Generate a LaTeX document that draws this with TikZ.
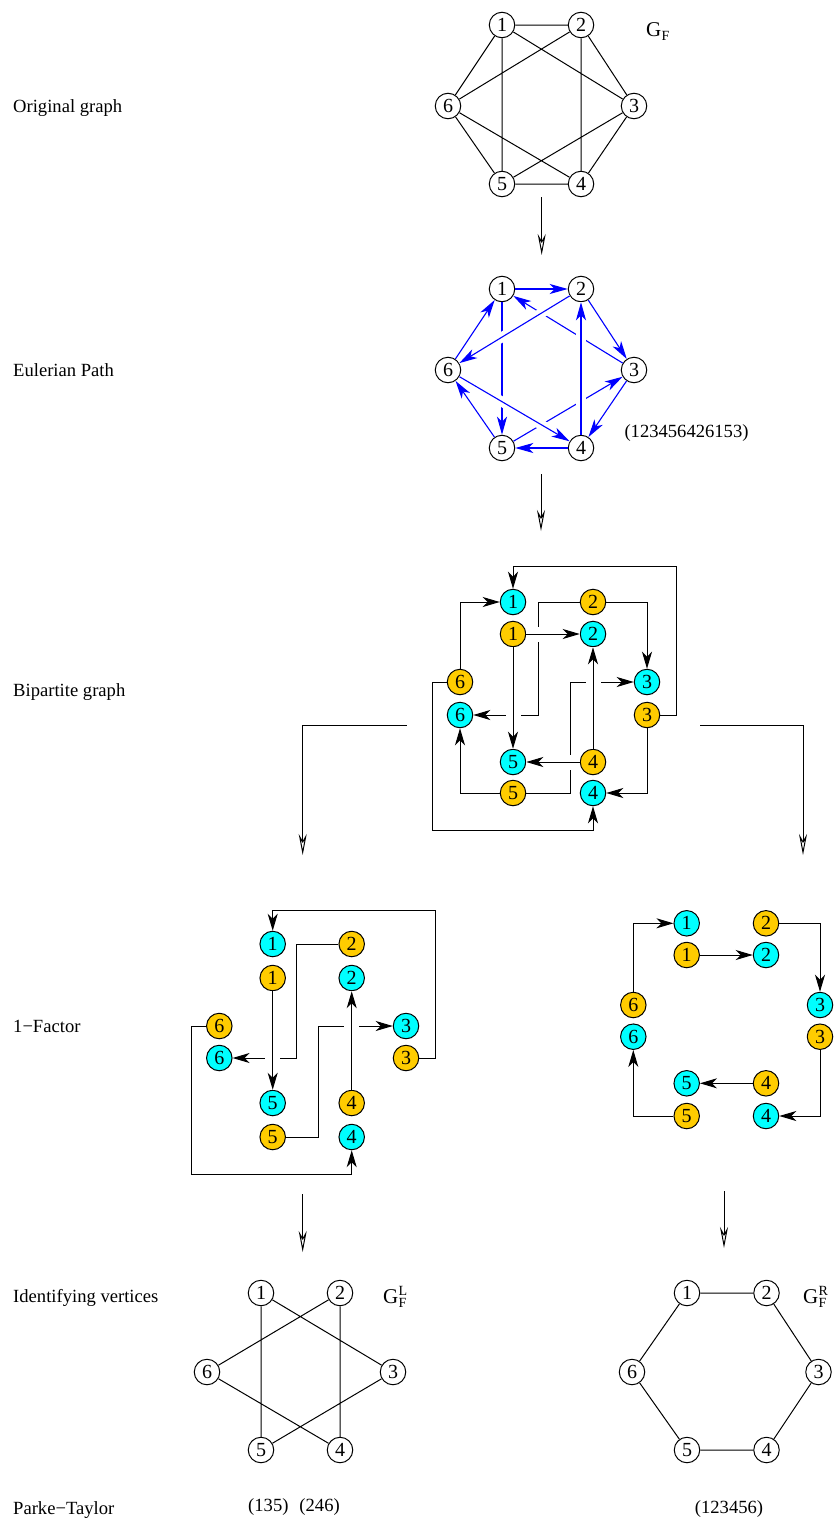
\documentclass[tikz,border=0pt]{standalone}
\usepackage{fontspec}
\setmainfont{Liberation Serif}
\usetikzlibrary{arrows.meta}
\definecolor{cy}{RGB}{0,255,255}
\definecolor{yl}{RGB}{255,204,0}
\definecolor{bl}{RGB}{0,0,255}
\newcommand{\Glab}[2]{{\fontsize{21}{21}\selectfont G}\kern0.3pt\rlap{\raisebox{8pt}{\fontsize{14}{14}\selectfont #1}}\raisebox{-4.5pt}{\fontsize{14}{14}\selectfont #2}}
\begin{document}
\begin{tikzpicture}[x=1pt,y=-1pt,
 v/.style={circle,draw,line width=1pt,minimum size=25.5pt,inner sep=0pt,fill=white,font=\fontsize{20}{20}\selectfont},
 cyn/.style={v,fill=cy}, yel/.style={v,fill=yl},
 lab/.style={anchor=base west,inner sep=0pt,font=\fontsize{18.6}{22}\selectfont},
 txt/.style={inner sep=0pt,font=\fontsize{18.6}{22}\selectfont},
 ln/.style={line width=1pt},
 ba/.style={ln,-{Stealth[length=17pt,width=10pt,inset=5pt]}},
 ea/.style={line width=1.1pt,draw=bl,-{Stealth[length=18pt,width=10pt,inset=5pt,fill=bl]}},
 flow/.style={line width=1pt,-{Stealth[open,length=21pt,width=8pt,inset=7pt]}},
 halo/.style={preaction={draw=white,line width=#1,arrows=-}},
]
\useasboundingbox (0,0) rectangle (835,1523);

% ---------- left labels
\node[lab] (t1) at (13,112) {Original graph};
\node[lab] (t2) at (13,376) {Eulerian Path};
\node[lab] (t3) at (13,696) {Bipartite graph};
\node[lab] (t4) at (13,1032) {1−Factor};
\node[lab] (t5) at (13,1302) {Identifying vertices};
\node[lab] (t6) at (13,1514) {Parke−Taylor};

% ---------- original graph G_F
\node[v] (g1) at (502,25) {1};
\node[v] (g2) at (581,25) {2};
\node[v] (g3) at (634,106) {3};
\node[v] (g4) at (581,184) {4};
\node[v] (g5) at (502,184) {5};
\node[v] (g6) at (448,106) {6};
\node[lab] (gfl) at (646,36) {\Glab{}{F}};
\draw[ln] (g1)--(g2) (g2)--(g3) (g3)--(g4) (g4)--(g5) (g5)--(g6) (g6)--(g1)
          (g1)--(g5) (g2)--(g4) (g1)--(g3) (g2)--(g6) (g3)--(g5) (g4)--(g6);

% flow arrow 1
\coordinate (a1s) at (541.7,197);
\coordinate (a1e) at (541.7,255);
\draw[flow] (a1s) -- (a1e);

% ---------- Eulerian path
\node[v] (e1) at (502,289) {1};
\node[v] (e2) at (581,289) {2};
\node[v] (e3) at (634,370) {3};
\node[v] (e4) at (581,448) {4};
\node[v] (e5) at (502,448) {5};
\node[v] (e6) at (448,370) {6};
\node[txt] (eseq) at (686.5,433) {(123456426153)};
% under edges
\draw[ea] (e1) -- (e5);
\draw[ea] (e5) -- (e3);
\draw[ea] (e3) -- (e1);
% over edges
\draw[ea,halo=10pt] (e2) -- (e6);
\draw[ea,halo=10pt] (e6) -- (e4);
\draw[ea,halo=10pt] (e4) -- (e2);
% outer edges
\draw[ea] (e1) -- (e2);
\draw[ea] (e2) -- (e3);
\draw[ea] (e3) -- (e4);
\draw[ea] (e4) -- (e5);
\draw[ea] (e5) -- (e6);
\draw[ea] (e6) -- (e1);

% flow arrow 2
\coordinate (a2s) at (541,474);
\coordinate (a2e) at (541,531);
\draw[flow] (a2s) -- (a2e);

% ---------- bipartite graph
\node[cyn] (C1) at (513,602) {1};
\node[yel] (Y1) at (513,634) {1};
\node[yel] (Y2) at (593,602) {2};
\node[cyn] (C2) at (593,634) {2};
\node[cyn] (C3) at (647,682) {3};
\node[yel] (Y3) at (647,715) {3};
\node[yel] (Y6) at (460,682) {6};
\node[cyn] (C6) at (460,715) {6};
\node[cyn] (C5) at (513,762) {5};
\node[yel] (Y4) at (593,762) {4};
\node[yel] (Y5) at (513,793) {5};
\node[cyn] (C4) at (593,793) {4};
% under
\draw[ba] (Y2.west) -- (538.3,602) |- (C6.east);
\draw[ba] (Y5.east) -- (570.7,793) |- (C3.west);
% over
\draw[ba,halo=15pt] (Y1.east) -- (C2.west);
\draw[ba,halo=15pt] (Y1.south) -- (C5.north);
\draw[ba,halo=15pt] (Y4.west) -- (C5.east);
\draw[ba,halo=15pt] (Y4.north) -- (C2.south);
% others
\draw[ba] (Y3.east) -- (676,715) -- (676,566) -| (C1.north);
\draw[ba] (Y3.south) |- (C4.east);
\draw[ba] (Y2.east) -| (C3.north);
\draw[ba] (Y5.west) -| (C6.south);
\draw[ba] (Y6.north) |- (C1.west);
\draw[ba] (Y6.west) -- (432.7,682) -- (432.7,830) -| (C4.south);

% flow arrows 3
\coordinate (a3ls) at (406.7,725.7);
\coordinate (a3le) at (302.7,855);
\draw[flow] (a3ls) -| (a3le);
\coordinate (a3rs) at (700,725.7);
\coordinate (a3re) at (803,855);
\draw[flow] (a3rs) -| (a3re);

% ---------- left 1-factor
\node[cyn] (LC1) at (272.7,944) {1};
\node[yel] (LY1) at (272.7,978) {1};
\node[yel] (LY2) at (351.7,944) {2};
\node[cyn] (LC2) at (351.7,978) {2};
\node[yel] (LY6) at (219.3,1026) {6};
\node[cyn] (LC6) at (219.3,1058) {6};
\node[cyn] (LC3) at (406,1026) {3};
\node[yel] (LY3) at (406,1058) {3};
\node[cyn] (LC5) at (272.7,1103) {5};
\node[yel] (LY4) at (351.7,1103) {4};
\node[yel] (LY5) at (272.7,1137) {5};
\node[cyn] (LC4) at (351.7,1137) {4};
\draw[ba] (LY2.west) -- (296.7,944) |- (LC6.east);
\draw[ba] (LY5.east) -- (318.3,1137) |- (LC3.west);
\draw[ba,halo=15pt] (LY1.south) -- (LC5.north);
\draw[ba,halo=15pt] (LY4.north) -- (LC2.south);
\draw[ba] (LY3.east) -- (435,1058) -- (435,910) -| (LC1.north);
\draw[ba] (LY6.west) -- (191.7,1026) -- (191.7,1174) -| (LC4.south);

% ---------- right 1-factor
\node[cyn] (RC1) at (686.7,923.3) {1};
\node[yel] (RY1) at (686.7,955) {1};
\node[yel] (RY2) at (766,923.3) {2};
\node[cyn] (RC2) at (766,955) {2};
\node[yel] (RY6) at (633.3,1005) {6};
\node[cyn] (RC6) at (633.3,1036.7) {6};
\node[cyn] (RC3) at (820,1005) {3};
\node[yel] (RY3) at (820,1036.7) {3};
\node[cyn] (RC5) at (686.7,1083.3) {5};
\node[yel] (RY4) at (766,1083.3) {4};
\node[yel] (RY5) at (686.7,1116) {5};
\node[cyn] (RC4) at (766,1116) {4};
\draw[ba] (RY6.north) |- (RC1.west);
\draw[ba] (RY1.east) -- (RC2.west);
\draw[ba] (RY2.east) -| (RC3.north);
\draw[ba] (RY3.south) |- (RC4.east);
\draw[ba] (RY4.west) -- (RC5.east);
\draw[ba] (RY5.west) -| (RC6.south);

% flow arrows 4
\coordinate (a4ls) at (302.7,1194);
\coordinate (a4le) at (302.7,1252);
\draw[flow] (a4ls) -- (a4le);
\coordinate (a4rs) at (724,1191);
\coordinate (a4re) at (724,1248);
\draw[flow] (a4rs) -- (a4re);

% ---------- G_F^L
\node[v] (l1) at (261,1293) {1};
\node[v] (l2) at (340,1293) {2};
\node[v] (l3) at (393,1372) {3};
\node[v] (l4) at (340,1450) {4};
\node[v] (l5) at (261,1450) {5};
\node[v] (l6) at (207,1372) {6};
\node[lab] (gll) at (383,1303) {\Glab{L}{F}};
\draw[ln] (l1)--(l5) (l2)--(l4) (l1)--(l3) (l2)--(l6) (l3)--(l5) (l4)--(l6);
\node[txt] (ptl) at (294,1507) {(135)\hspace{11pt}(246)};

% ---------- G_F^R
\node[v] (r1) at (687,1293) {1};
\node[v] (r2) at (766.5,1293) {2};
\node[v] (r3) at (818.5,1372) {3};
\node[v] (r4) at (766.5,1450) {4};
\node[v] (r5) at (687,1450) {5};
\node[v] (r6) at (632,1372) {6};
\node[lab] (grl) at (803,1303) {\Glab{R}{F}};
\draw[ln] (r1)--(r2) (r2)--(r3) (r3)--(r4) (r4)--(r5) (r5)--(r6) (r6)--(r1);
\node[txt] (ptr) at (729,1509) {(123456)};
\end{tikzpicture}
\end{document}
